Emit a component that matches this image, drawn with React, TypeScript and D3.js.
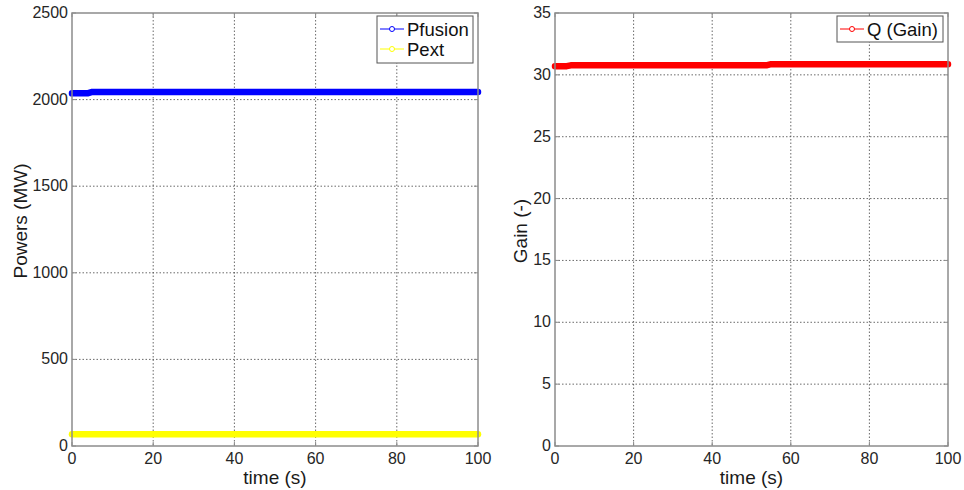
import React from "react";
import * as d3 from "d3";

const pfusionTime = [0, 4, 5, 100];
const pfusionVals = [2036, 2037, 2044, 2044];
const pextTime = [0, 100];
const pextVals = [68, 68];
const gainTime = [0, 3, 4, 54, 55, 100];
const gainVals = [30.69, 30.7, 30.77, 30.78, 30.86, 30.86];

const xTicks = [0, 20, 40, 60, 80, 100];
const powerTicks = [0, 500, 1000, 1500, 2000, 2500];
const gainTicks = [0, 5, 10, 15, 20, 25, 30, 35];

const FONT = "'Liberation Sans', Arial, sans-serif";

type Series = { t: number[]; v: number[]; color: string; name: string };

function Panel(props: {
  x0: number; x1: number; y0: number; y1: number;
  yMax: number; yTicks: number[]; yLabel: string; yLabelX: number; yLabelY: number;
  series: Series[]; legend: { x: number; y: number; w: number; h: number };
}) {
  const { x0, x1, y0, y1, yMax, yTicks, yLabel, yLabelX, yLabelY, series, legend } = props;
  const xs = d3.scaleLinear().domain([0, 100]).range([x0, x1]);
  const ys = d3.scaleLinear().domain([0, yMax]).range([y1, y0]);
  const grid = "#444";
  const axisC = "#8c8c8c";
  return (
    <g>
      {xTicks.slice(1, -1).map((t) => (
        <line key={"gx" + t} x1={xs(t)} x2={xs(t)} y1={y0} y2={y1} stroke={grid} strokeWidth={0.8} strokeDasharray="1.5,2" />
      ))}
      {yTicks.slice(1, -1).map((t) => (
        <line key={"gy" + t} x1={x0} x2={x1} y1={ys(t)} y2={ys(t)} stroke={grid} strokeWidth={0.8} strokeDasharray="1.5,2" />
      ))}
      {series.map((s) => {
        const pts = s.t.map((t, i) => [t, s.v[i]] as [number, number]);
        const line = d3.line<[number, number]>().x((d) => xs(d[0])).y((d) => ys(d[1])).curve(d3.curveLinear);
        return <path key={s.name} d={line(pts) || ""} fill="none" stroke={s.color} strokeWidth={6.5} strokeLinecap="round" strokeLinejoin="round" />;
      })}
      <rect x={x0} y={y0} width={x1 - x0} height={y1 - y0} fill="none" stroke={axisC} strokeWidth={1.5} />
      {xTicks.map((t) => (
        <g key={"xt" + t}>
          <line x1={xs(t)} x2={xs(t)} y1={y1} y2={y1 - 4} stroke={axisC} />
          <line x1={xs(t)} x2={xs(t)} y1={y0} y2={y0 + 4} stroke={axisC} />
          <text x={xs(t)} y={y1 + 18} textAnchor="middle" fontSize={16} fill="#262626" fontFamily={FONT}>{t}</text>
        </g>
      ))}
      {yTicks.map((t) => (
        <g key={"yt" + t}>
          <line x1={x0} x2={x0 + 4} y1={ys(t)} y2={ys(t)} stroke={axisC} />
          <line x1={x1} x2={x1 - 4} y1={ys(t)} y2={ys(t)} stroke={axisC} />
          <text x={x0 - 4} y={ys(t) + 5} textAnchor="end" fontSize={16} fill="#262626" fontFamily={FONT}>{t}</text>
        </g>
      ))}
      <text x={(x0 + x1) / 2} y={y1 + 38} textAnchor="middle" fontSize={19} fill="#1a1a1a" fontFamily={FONT}>time (s)</text>
      <text transform={`translate(${yLabelX},${yLabelY}) rotate(-90)`} textAnchor="middle" fontSize={19} fill="#1a1a1a" fontFamily={FONT}>{yLabel}</text>
      <rect x={legend.x} y={legend.y} width={legend.w} height={legend.h} fill="#fff" stroke="#555" strokeWidth={1} />
      {series.map((s, i) => {
        const cy = legend.y + 13 + i * 20;
        return (
          <g key={"lg" + s.name}>
            <line x1={legend.x + 3} x2={legend.x + 27} y1={cy} y2={cy} stroke={s.color} strokeWidth={1} />
            <circle cx={legend.x + 15} cy={cy} r={2.5} fill="#fff" stroke={s.color} strokeWidth={1} />
            <text x={legend.x + 30} y={cy + 6.5} fontSize={18.5} fill="#111" fontFamily={FONT}>{s.name}</text>
          </g>
        );
      })}
    </g>
  );
}

export default function App() {
  return (
    <svg width={964} height={490} style={{ position: "absolute", left: 0, top: 0, background: "#fff" }}>
      <rect x={0} y={0} width={964} height={490} fill="#fff" />
      <Panel
        x0={72} x1={478} y0={13} y1={446}
        yMax={2500} yTicks={powerTicks} yLabel="Powers (MW)" yLabelX={27} yLabelY={221}
        series={[
          { t: pfusionTime, v: pfusionVals, color: "#0000ff", name: "Pfusion" },
          { t: pextTime, v: pextVals, color: "#ffff00", name: "Pext" },
        ]}
        legend={{ x: 377, y: 16, w: 96, h: 47 }}
      />
      <Panel
        x0={555} x1={948} y0={13} y1={446}
        yMax={35} yTicks={gainTicks} yLabel="Gain (-)" yLabelX={527} yLabelY={231}
        series={[{ t: gainTime, v: gainVals, color: "#ff0000", name: "Q (Gain)" }]}
        legend={{ x: 837, y: 16, w: 106, h: 26 }}
      />
    </svg>
  );
}
